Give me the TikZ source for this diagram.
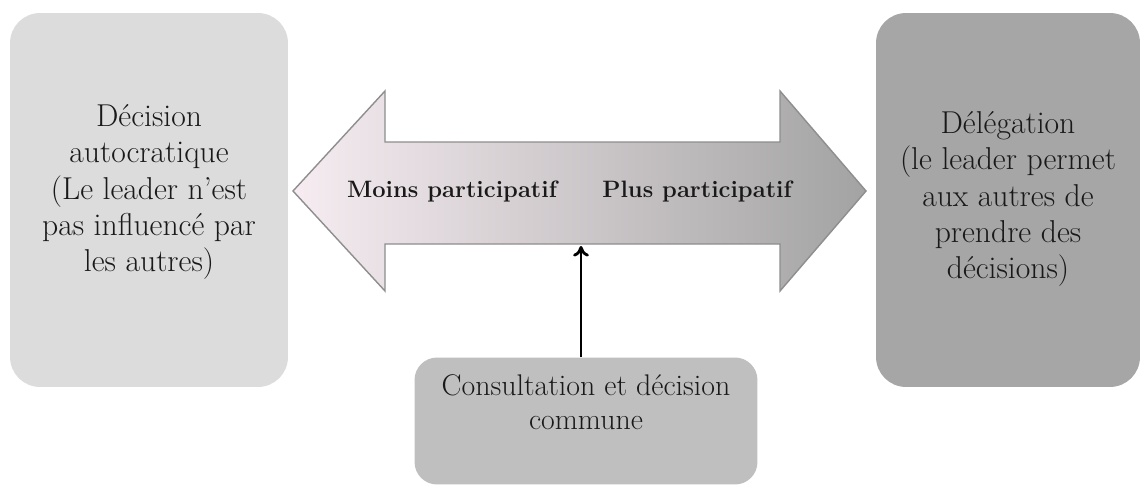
\documentclass[tikz,border=0pt]{standalone}
\usepackage{tikz}
\usetikzlibrary{arrows.meta,positioning}

\definecolor{boxlight}{HTML}{DCDCDC}
\definecolor{boxmid}{HTML}{BFBFBF}
\definecolor{boxdark}{HTML}{A6A6A6}
\definecolor{arrowpink}{HTML}{F6ECF1}
\definecolor{arrowgrey}{HTML}{A3A3A3}
\definecolor{arrowedge}{HTML}{8E8E8E}

\begin{document}
\begin{tikzpicture}[x=0.02cm,y=-0.02cm,
		bigbox/.style={rounded corners=0.6cm,minimum width=#1,minimum height=7.48cm,inner sep=0pt},
		boxtext/.style={align=center,font=\fontsize{18}{20.6}\selectfont,text=black!90},
		arrowtext/.style={font=\fontsize{13.5}{15}\selectfont\bfseries,text=black!90}]
		\useasboundingbox (0,0) rectangle (1146,484);
		%%%%%%%%%%%%%%%%%%%%%%%%%%%%%%%%%
		\node[bigbox=5.56cm,fill=boxlight] (autoc) at (149,200){};
		\node[boxtext] at (149,192){D\'ecision\\autocratique\\(Le leader n'est\\pas influenc\'e par\\les autres)};
		\node[bigbox=5.28cm,fill=boxdark] (deleg) at (1008,200){};
		\node[boxtext] at (1008,199){D\'el\'egation\\(le leader permet\\aux autres de\\prendre des\\d\'ecisions)};
		%%%%%%%%%%%%%%%%%%%%%%%%%%%%%%%%%
		\shade[left color=arrowpink,middle color=boxmid,right color=arrowgrey,draw=arrowedge,line width=0.8pt]
			(293,191) -- (385,91) -- (385,142) -- (780,142) -- (780,91) -- (866,191)
			-- (780,291) -- (780,244) -- (385,244) -- (385,291) -- cycle;
		\node[arrowtext] (moins) at (452,191){Moins participatif};
		\node[arrowtext] (plus) at (697,191){Plus participatif};
		\coordinate (shaftbot) at (581,246);
		%%%%%%%%%%%%%%%%%%%%%%%%%%%%%%%%%
		\node[rounded corners=0.45cm,fill=boxmid,minimum width=6.86cm,minimum height=2.54cm,inner sep=0pt] (consult) at (586,421){};
		\node[boxtext,font=\fontsize{17}{19.5}\selectfont] at (586,402){Consultation et d\'ecision\\commune};
		\draw[line width=1.6pt,-{To[length=6pt,width=9pt]}] (consult.north -| shaftbot) -- (shaftbot);
	\end{tikzpicture}
\end{document}
